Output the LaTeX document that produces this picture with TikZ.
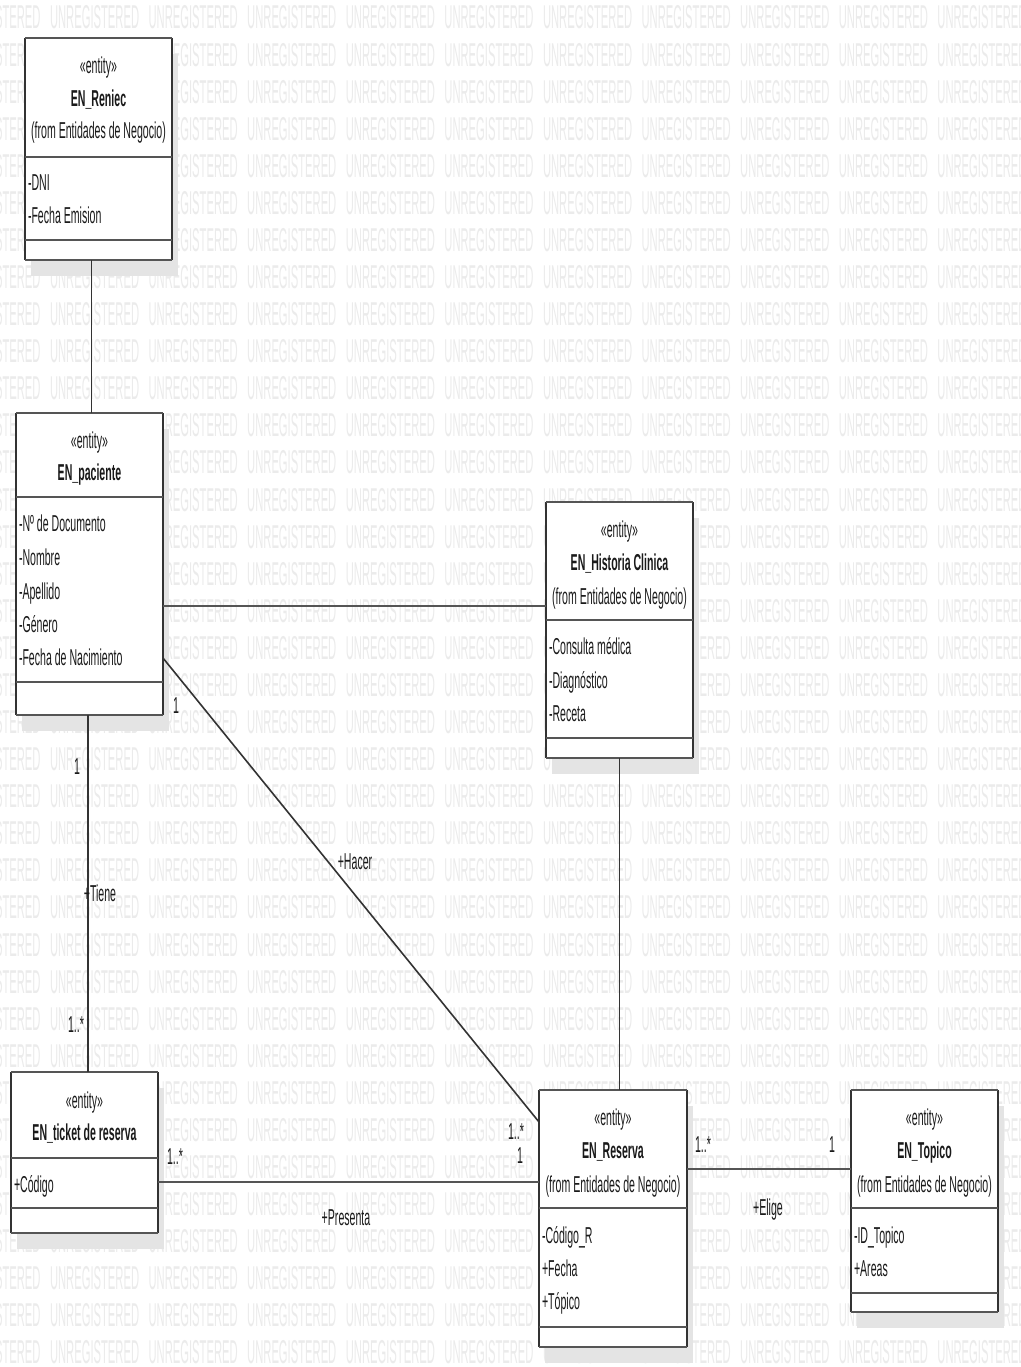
\documentclass[tikz,border=0pt]{standalone}
\usepackage{fontspec}
\setmainfont{Liberation Sans}[FakeStretch=0.46]
\newfontfamily\wmfont{Liberation Sans}[FakeStretch=0.34]
\definecolor{txt}{HTML}{1A1A1A}
\definecolor{hl}{HTML}{555555}
\definecolor{vl}{HTML}{333333}
\definecolor{wmc}{HTML}{EBEBEB}
\definecolor{shd}{HTML}{E4E4E4}
\tikzset{
  every node/.style={font=\fontsize{23}{33}\selectfont, text=txt, inner sep=0pt, outer sep=0pt},
  wm/.style={font=\wmfont\fontsize{33}{33}\selectfont, text=wmc, anchor=west, text height=24pt, text depth=0pt},
  boxnode/.style={fill=white, draw=none},
  hline/.style={draw=hl, line width=2.6pt},
  vline/.style={draw=vl, line width=1.1pt},
  conh/.style={draw=hl, line width=2.6pt},
  conv/.style={draw=vl, line width=1.1pt},
  cond/.style={draw=vl, line width=1.6pt},
  ttl/.style={text height=16pt, text depth=0pt, anchor=center},
  attr/.style={text height=16pt, text depth=0pt, anchor=west},
  lbl/.style={text height=16pt, text depth=0pt, anchor=center},
}
\newcommand{\umlbox}[7]{%
  \fill[shd] (#2+6,#3+16) rectangle (#4+6,#5+16);
  \node[boxnode, minimum width=#4-#2, minimum height=#5-#3] (#1) at ({(#2+#4)/2},{(#3+#5)/2}) {};
  \draw[vline] (#2,#3) -- (#2,#5) (#4,#3) -- (#4,#5);
  \draw[hline] (#2,#3) -- (#4,#3) (#2,#6) -- (#4,#6) (#2,#7) -- (#4,#7) (#2,#5) -- (#4,#5);
}
\begin{document}
\begin{tikzpicture}[x=1pt,y=-1pt]
\useasboundingbox (0,0) rectangle (1020,1367);
\fill[white] (0,0) rectangle (1020,1367);
% watermark
\begin{scope}
\clip (0,0) rectangle (1020,1367);
\foreach \r in {0,...,36}{
  \foreach \c in {0,...,10}{
    \node[wm] (wm-\r-\c) at ({-48.6+98.6*\c},{17+37.08*\r}) {UNREGISTERED};
  }
}
\end{scope}
% boxes
\umlbox{reniec}{25}{38}{172}{260}{157}{240}
\umlbox{paciente}{16}{413}{163}{715}{497}{682}
\umlbox{historia}{546}{502}{693}{758}{620}{738}
\umlbox{ticket}{11}{1072}{158}{1233}{1158}{1208}
\umlbox{reserva}{539}{1090}{687}{1347}{1208}{1327}
\umlbox{topico}{851}{1090}{998}{1312}{1208}{1293}
% connectors
\draw[conv] ([xshift=2pt]paciente.north) -- ([xshift=2pt]paciente.north |- reniec.south);
\draw[conh] ([yshift=-42pt]paciente.east) -- ([yshift=-42pt]paciente.east -| historia.west);
\draw[cond] ([yshift=-94pt]paciente.east) -- ([yshift=96.5pt]reserva.west);
\draw[conv] ([xshift=-1.5pt]paciente.south) -- ([xshift=-1.5pt]paciente.south |- ticket.north);
\draw[conv] (historia.south) -- (historia.south |- reserva.north);
\draw[conh] ([yshift=-29.5pt]ticket.east) -- ([yshift=-29.5pt]ticket.east -| reserva.west);
\draw[conh] ([yshift=49.5pt]reserva.east) -- ([yshift=49.5pt]reserva.east -| topico.west);
% EN_Reniec
\node[ttl] (reniec-st) at (98.5,66) {«entity»};
\node[ttl] (reniec-nm) at (98.5,99) {\bfseries EN\_Reniec};
\node[ttl] (reniec-fr) at (98.5,131) {(from Entidades de Negocio)};
\node[attr] (reniec-a1) at (28,182) {-DNI};
\node[attr] (reniec-a2) at (28,215) {-Fecha Emision};
% EN_paciente
\node[ttl] (paciente-st) at (89.5,440) {«entity»};
\node[ttl] (paciente-nm) at (89.5,472) {\bfseries EN\_paciente};
\node[attr] (paciente-a1) at (19,523) {-Nº de Documento};
\node[attr] (paciente-a2) at (19,557) {-Nombre};
\node[attr] (paciente-a3) at (19,591) {-Apellido};
\node[attr] (paciente-a4) at (19,624) {-Género};
\node[attr] (paciente-a5) at (19,657) {-Fecha de Nacimiento};
% EN_Historia Clinica
\node[ttl] (historia-st) at (619.5,529) {«entity»};
\node[ttl] (historia-nm) at (619.5,562) {\bfseries EN\_Historia Clinica};
\node[ttl] (historia-fr) at (619.5,596) {(from Entidades de Negocio)};
\node[attr] (historia-a1) at (549,646) {-Consulta médica};
\node[attr] (historia-a2) at (549,680) {-Diagnóstico};
\node[attr] (historia-a3) at (549,713) {-Receta};
% EN_ticket de reserva
\node[ttl] (ticket-st) at (84.5,1100) {«entity»};
\node[ttl] (ticket-nm) at (84.5,1132) {\bfseries EN\_ticket de reserva};
\node[attr] (ticket-a1) at (14,1184) {+Código};
% EN_Reserva
\node[ttl] (reserva-st) at (613,1117) {«entity»};
\node[ttl] (reserva-nm) at (613,1150) {\bfseries EN\_Reserva};
\node[ttl] (reserva-fr) at (613,1184) {(from Entidades de Negocio)};
\node[attr] (reserva-a1) at (542,1235) {-Código\_R};
\node[attr] (reserva-a2) at (542,1268) {+Fecha};
\node[attr] (reserva-a3) at (542,1301) {+Tópico};
% EN_Topico
\node[ttl] (topico-st) at (924.5,1117) {«entity»};
\node[ttl] (topico-nm) at (924.5,1150) {\bfseries EN\_Topico};
\node[ttl] (topico-fr) at (924.5,1184) {(from Entidades de Negocio)};
\node[attr] (topico-a1) at (854,1235) {-ID\_Topico};
\node[attr] (topico-a2) at (854,1268) {+Areas};
% association labels
\node[lbl] (l-tiene-1) at (77,766) {1};
\node[lbl] (l-tiene) at (100,893) {+Tiene};
\node[lbl] (l-tiene-2) at (76,1024) {1..*};
\node[lbl] (l-hacer-1) at (176,705) {1};
\node[lbl] (l-hacer) at (355,861) {+Hacer};
\node[lbl] (l-hacer-2) at (516,1131) {1..*};
\node[lbl] (l-pres-1) at (175,1156) {1..*};
\node[lbl] (l-pres-2) at (520,1155) {1};
\node[lbl] (l-pres) at (346,1217) {+Presenta};
\node[lbl] (l-elige-1) at (703,1144) {1..*};
\node[lbl] (l-elige-2) at (832,1144) {1};
\node[lbl] (l-elige) at (768,1207) {+Elige};
\end{tikzpicture}
\end{document}
